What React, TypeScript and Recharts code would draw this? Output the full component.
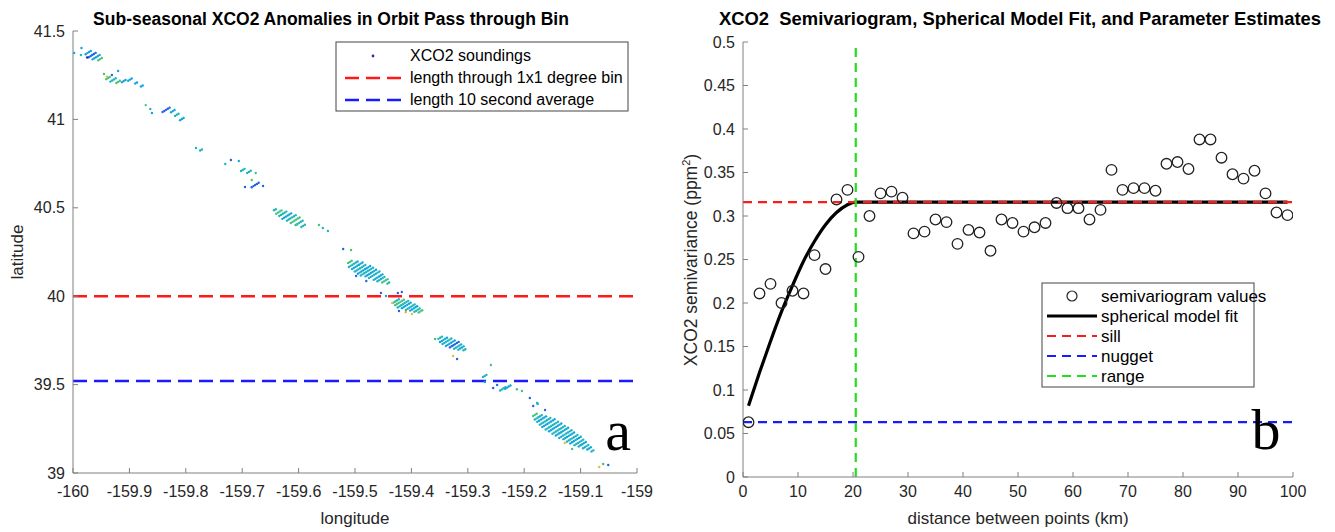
import React from 'react';
import { ComposedChart, Scatter, Line, XAxis, YAxis } from 'recharts';

// panel a: OCO-2 frames -> [lon, lat, soundings in frame, colour]
const soundings: [number, number, number, string][] = [
  [-159.998, 41.376, 1, 'c'], [-159.985, 41.404, 1, 'c'], [-159.986, 41.364, 1, 't'],
  [-159.973, 41.378, 4, 'c'], [-159.966, 41.364, 5, 'b'], [-159.959, 41.352, 5, 'c'], [-159.952, 41.341, 3, 'g'],
  [-159.975, 41.350, 1, 'd'],
  [-159.945, 41.257, 1, 'g'], [-159.938, 41.234, 3, 'g'], [-159.931, 41.251, 1, 'b'], [-159.920, 41.274, 1, 'c'],
  [-159.929, 41.223, 4, 't'], [-159.920, 41.212, 3, 'g'], [-159.910, 41.217, 3, 'c'], [-159.899, 41.225, 3, 'c'],
  [-159.888, 41.206, 2, 'c'], [-159.878, 41.189, 2, 'c'], [-159.940, 41.242, 1, 'y'],
  [-159.871, 41.081, 1, 'g'], [-159.863, 41.059, 1, 't'], [-159.860, 41.036, 1, 'c'],
  [-159.835, 41.054, 5, 'b'], [-159.823, 41.047, 3, 'c'], [-159.816, 41.026, 3, 't'], [-159.807, 41.002, 3, 'c'],
  [-159.782, 40.838, 1, 't'], [-159.773, 40.827, 2, 't'],
  [-159.730, 40.748, 1, 't'], [-159.720, 40.770, 1, 'b'], [-159.706, 40.765, 1, 'c'], [-159.699, 40.714, 3, 't'],
  [-159.688, 40.703, 3, 't'], [-159.676, 40.697, 1, 'g'], [-159.677, 40.629, 5, 'b'], [-159.695, 40.618, 1, 'b'],
  [-159.663, 40.623, 1, 'b'], [-159.683, 40.657, 1, 'g'],
  [-159.642, 40.489, 2, 't'], [-159.635, 40.476, 4, 'g'], [-159.628, 40.466, 5, 't'], [-159.621, 40.453, 6, 'c'],
  [-159.613, 40.443, 6, 't'], [-159.606, 40.430, 6, 'g'], [-159.599, 40.415, 5, 't'], [-159.592, 40.398, 3, 't'],
  [-159.564, 40.403, 1, 'g'], [-159.557, 40.386, 1, 't'], [-159.548, 40.369, 1, 't'], [-159.603, 40.405, 1, 'g'],
  [-159.521, 40.267, 1, 'b'], [-159.507, 40.261, 1, 'g'],
  [-159.509, 40.194, 3, 'g'], [-159.503, 40.181, 6, 't'], [-159.496, 40.172, 7, 'c'], [-159.491, 40.158, 7, 't'],
  [-159.484, 40.149, 8, 'c'], [-159.479, 40.139, 8, 't'], [-159.472, 40.131, 7, 'c'], [-159.466, 40.121, 7, 't'],
  [-159.459, 40.108, 6, 'c'], [-159.454, 40.097, 5, 't'], [-159.447, 40.087, 4, 'g'], [-159.441, 40.074, 2, 't'],
  [-159.498, 40.114, 1, 'b'], [-159.480, 40.086, 1, 'b'], [-159.454, 40.018, 1, 'b'], [-159.445, 40.001, 1, 'c'],
  [-159.424, 40.018, 1, 'b'], [-159.417, 40.024, 1, 'b'],
  [-159.427, 39.973, 4, 't'], [-159.421, 39.965, 6, 'g'], [-159.415, 39.955, 7, 't'], [-159.409, 39.948, 6, 'c'],
  [-159.402, 39.938, 6, 't'], [-159.396, 39.931, 5, 'c'], [-159.390, 39.921, 4, 't'], [-159.384, 39.914, 3, 'g'],
  [-159.434, 39.962, 1, 'y'], [-159.410, 39.911, 1, 'o'], [-159.399, 39.899, 1, 'y'], [-159.422, 39.916, 1, 'b'],
  [-159.358, 39.758, 1, 'g'], [-159.349, 39.765, 3, 't'], [-159.343, 39.753, 5, 'c'], [-159.337, 39.745, 6, 't'],
  [-159.331, 39.734, 6, 'c'], [-159.324, 39.726, 6, 'b'], [-159.318, 39.715, 5, 't'], [-159.312, 39.707, 4, 'c'],
  [-159.306, 39.697, 2, 't'], [-159.319, 39.645, 1, 'b'], [-159.326, 39.662, 1, 'y'],
  [-159.259, 39.611, 1, 'g'], [-159.270, 39.549, 3, 't'], [-159.270, 39.515, 1, 'c'], [-159.255, 39.481, 1, 'b'],
  [-159.248, 39.498, 1, 'b'], [-159.238, 39.476, 4, 't'], [-159.229, 39.486, 4, 'c'], [-159.213, 39.474, 1, 'g'],
  [-159.204, 39.464, 1, 'g'], [-159.190, 39.424, 1, 'b'], [-159.177, 39.396, 1, 'c'],
  [-159.184, 39.379, 1, 'b'], [-159.176, 39.390, 1, 't'], [-159.163, 39.356, 1, 'b'],
  [-159.181, 39.329, 3, 'g'], [-159.175, 39.315, 5, 't'], [-159.169, 39.305, 6, 'c'], [-159.163, 39.292, 7, 't'],
  [-159.157, 39.282, 8, 'c'], [-159.151, 39.268, 8, 't'], [-159.145, 39.258, 8, 'c'], [-159.139, 39.244, 8, 't'],
  [-159.133, 39.234, 8, 'c'], [-159.127, 39.220, 8, 't'], [-159.121, 39.210, 7, 'c'], [-159.115, 39.196, 7, 't'],
  [-159.109, 39.186, 7, 'c'], [-159.103, 39.173, 6, 't'], [-159.097, 39.163, 5, 'c'], [-159.091, 39.149, 4, 't'],
  [-159.085, 39.139, 3, 'c'], [-159.079, 39.125, 2, 't'],
  [-159.128, 39.170, 1, 'y'], [-159.115, 39.136, 1, 'g'], [-159.067, 39.034, 1, 'y'], [-159.060, 39.051, 1, 'g'],
  [-159.051, 39.045, 1, 'b'],
];
const binLat = 40.0;
const avgLat = 39.52;
const lonTicks = [-160, -159.9, -159.8, -159.7, -159.6, -159.5, -159.4, -159.3, -159.2, -159.1, -159];
const latTicks = [39, 39.5, 40, 40.5, 41, 41.5];

// panel b: empirical semivariogram
const distanceKm = [1, 3, 5, 7, 9, 11, 13, 15, 17, 19, 21, 23, 25, 27, 29, 31, 33, 35, 37, 39, 41, 43, 45, 47, 49,
  51, 53, 55, 57, 59, 61, 63, 65, 67, 69, 71, 73, 75, 77, 79, 81, 83, 85, 87, 89, 91, 93, 95, 97, 99];
const semivariance = [0.063, 0.211, 0.222, 0.200, 0.214, 0.211, 0.255, 0.239, 0.319, 0.330, 0.253, 0.300, 0.326,
  0.328, 0.321, 0.280, 0.282, 0.296, 0.293, 0.268, 0.284, 0.281, 0.260, 0.296, 0.292, 0.282, 0.287, 0.292, 0.315,
  0.309, 0.309, 0.296, 0.307, 0.353, 0.330, 0.332, 0.332, 0.329, 0.360, 0.362, 0.354, 0.388, 0.388, 0.367, 0.348,
  0.343, 0.352, 0.326, 0.304, 0.301];
const fitKm = [1, 3, 5, 7, 9, 11, 13, 15, 17, 19, 20.5, 99];
const fitValue = [0.082, 0.120, 0.156, 0.190, 0.220, 0.248, 0.271, 0.290, 0.304, 0.313, 0.316, 0.316];
const sill = 0.316;
const nugget = 0.063;
const rangeKm = 20.5;
const distTicks = [0, 10, 20, 30, 40, 50, 60, 70, 80, 90, 100];
const semiTicks = [0, 0.05, 0.1, 0.15, 0.2, 0.25, 0.3, 0.35, 0.4, 0.45, 0.5];

const palette: Record<string, string> = {
  d: '#2b2ea8', b: '#1f62e6', c: '#12a4dc', t: '#1cb6bc', g: '#46c27a', y: '#dcc22c', o: '#f3a024',
};
const FONT = '"Liberation Sans", Arial, sans-serif';
const AXIS = '#808080';
const INK = '#262626';

const frameData = soundings.map(([lon, lat, n, c]) => ({ lon, lat, n, c }));
const semiData = distanceKm.map((d, i) => ({ d, v: semivariance[i] }));
const fitData = fitKm.map((d, i) => ({ d, v: fitValue[i] }));

// one frame = a short slanted row of footprints
const FrameGlyph = (props: any) => {
  const { cx, cy, payload } = props;
  const n = payload.n;
  const dots = [];
  for (let i = 0; i < n; i++) {
    const k = i - (n - 1) / 2;
    dots.push(<circle key={i} cx={cx + k * 1.75} cy={cy - k * 1.1} r={1.2} fill={palette[payload.c]} />);
  }
  return <g>{dots}</g>;
};

const OpenCircle = (props: any) => (
  <circle cx={props.cx} cy={props.cy} r={5.3} fill="none" stroke="#222" strokeWidth={1.3} />
);

const tickStyle = { fill: INK, fontSize: 16, fontFamily: FONT };

const App: React.FC = () => {
  return (
    <div style={{ position: 'absolute', left: 0, top: 0, width: 1335, height: 532, background: '#fff' }}>
      <div style={{ position: 'absolute', left: 0, top: 0 }}>
        <ComposedChart width={660} height={532} margin={{ top: 31, right: 23, bottom: 29, left: 0 }}>
          <XAxis type="number" dataKey="lon" domain={[-160, -159]} ticks={lonTicks} height={30}
            allowDataOverflow stroke={AXIS} tick={tickStyle} tickSize={-5} tickMargin={18} interval={0} />
          <YAxis type="number" dataKey="lat" domain={[39, 41.5]} ticks={latTicks} width={73}
            allowDataOverflow stroke={AXIS} tick={tickStyle} tickSize={-5} tickMargin={13} interval={0} />
          <Scatter data={frameData} shape={FrameGlyph} isAnimationActive={false} />
          <Line data={[{ lon: -160, lat: binLat }, { lon: -159, lat: binLat }]} dataKey="lat" stroke="#ff1a1a"
            strokeWidth={2.6} strokeDasharray="14 7" dot={false} isAnimationActive={false} />
          <Line data={[{ lon: -160, lat: avgLat }, { lon: -159, lat: avgLat }]} dataKey="lat" stroke="#1a1aff"
            strokeWidth={2.6} strokeDasharray="14 7" dot={false} isAnimationActive={false} />
        </ComposedChart>
      </div>
      <div style={{ position: 'absolute', left: 660, top: 0 }}>
        <ComposedChart width={675} height={532} margin={{ top: 42, right: 42, bottom: 25, left: 0 }}>
          <XAxis type="number" dataKey="d" domain={[0, 100]} ticks={distTicks} height={30}
            allowDataOverflow stroke={AXIS} tick={tickStyle} tickSize={-5} tickMargin={14} interval={0} />
          <YAxis type="number" dataKey="v" domain={[0, 0.5]} ticks={semiTicks} width={83}
            allowDataOverflow stroke={AXIS} tick={tickStyle} tickSize={-5} tickMargin={13} interval={0} />
          <Line data={[{ d: 0, v: nugget }, { d: 100, v: nugget }]} dataKey="v" stroke="#1a1aff"
            strokeWidth={2.2} strokeDasharray="9 6" dot={false} isAnimationActive={false} />
          <Scatter data={semiData} shape={OpenCircle} isAnimationActive={false} />
          <Line data={fitData} dataKey="v" type="monotone" stroke="#000" strokeWidth={3.2} dot={false}
            isAnimationActive={false} />
          <Line data={[{ d: 0, v: sill }, { d: 100, v: sill }]} dataKey="v" stroke="#ff1a1a"
            strokeWidth={2.2} strokeDasharray="9 6" dot={false} isAnimationActive={false} />
          <Line data={[{ d: rangeKm, v: 0 }, { d: rangeKm, v: 0.5 }]} dataKey="v" stroke="#22dd22"
            strokeWidth={2.2} strokeDasharray="9 6" dot={false} isAnimationActive={false} />
        </ComposedChart>
      </div>

      <svg width={1335} height={532} style={{ position: 'absolute', left: 0, top: 0, pointerEvents: 'none' }}
        fontFamily={FONT}>
        <text x={331} y={25} textAnchor="middle" fontSize={17.5} fontWeight="bold" fill="#000">
          Sub-seasonal XCO2 Anomalies in Orbit Pass through Bin
        </text>
        <text x={1020} y={25} textAnchor="middle" fontSize={18.4} fontWeight="bold" fill="#000"
          style={{ whiteSpace: 'pre' }}>
          {'XCO2  Semivariogram, Spherical Model Fit, and Parameter Estimates'}
        </text>
        <text x={355} y={524} textAnchor="middle" fontSize={17} fill={INK}>longitude</text>
        <text x={1018} y={524} textAnchor="middle" fontSize={17} fill={INK}>distance between points (km)</text>
        <text transform="translate(23,252) rotate(-90)" textAnchor="middle" fontSize={17} fill={INK}>latitude</text>
        <text transform="translate(697,260) rotate(-90)" textAnchor="middle" fontSize={17.5} fill={INK}>
          XCO2 semivariance (ppm<tspan dy={-7} fontSize={11}>2</tspan><tspan dy={7}>)</tspan>
        </text>

        {/* legend a */}
        <rect x={336} y={42} width={292} height={69} fill="#fff" stroke="#444" strokeWidth={1} />
        <circle cx={373} cy={56} r={1.4} fill="#2b2ea8" />
        <line x1={345} y1={78} x2={402} y2={78} stroke="#ff1a1a" strokeWidth={2.6} strokeDasharray="14 7" />
        <line x1={345} y1={100} x2={402} y2={100} stroke="#1a1aff" strokeWidth={2.6} strokeDasharray="14 7" />
        <text x={410} y={61} fontSize={16} fill="#000">XCO2 soundings</text>
        <text x={410} y={83} fontSize={16} fill="#000">length through 1x1 degree bin</text>
        <text x={410} y={105} fontSize={16} fill="#000">length 10 second average</text>

        {/* legend b */}
        <rect x={1042} y={283} width={212} height={104} fill="#fff" stroke="#444" strokeWidth={1} />
        <circle cx={1072} cy={296} r={5} fill="none" stroke="#222" strokeWidth={1.2} />
        <line x1={1047} y1={316} x2={1097} y2={316} stroke="#000" strokeWidth={3} />
        <line x1={1047} y1={336} x2={1097} y2={336} stroke="#ff1a1a" strokeWidth={2.2} strokeDasharray="9 6" />
        <line x1={1047} y1={356} x2={1097} y2={356} stroke="#1a1aff" strokeWidth={2.2} strokeDasharray="9 6" />
        <line x1={1047} y1={376} x2={1097} y2={376} stroke="#22dd22" strokeWidth={2.2} strokeDasharray="9 6" />
        <text x={1101} y={302} fontSize={17} fill="#000">semivariogram values</text>
        <text x={1101} y={322} fontSize={17} fill="#000">spherical model fit</text>
        <text x={1101} y={342} fontSize={17} fill="#000">sill</text>
        <text x={1101} y={362} fontSize={17} fill="#000">nugget</text>
        <text x={1101} y={382} fontSize={17} fill="#000">range</text>

        <text x={618} y={450} textAnchor="middle" fontSize={58} fontFamily='"Liberation Serif", serif' fill="#000">a</text>
        <text x={1266} y={449} textAnchor="middle" fontSize={58} fontFamily='"Liberation Serif", serif' fill="#000">b</text>
      </svg>
    </div>
  );
};

export default App;
